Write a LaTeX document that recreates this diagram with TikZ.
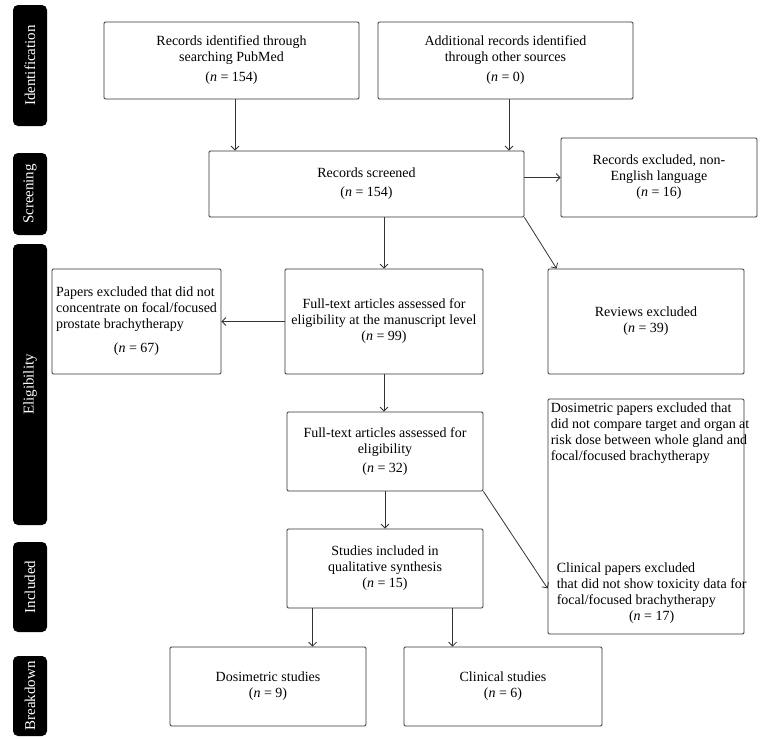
\documentclass[tikz,border=0pt]{standalone}
\usepackage{fontspec}
\setmainfont{Liberation Serif}
\usetikzlibrary{arrows.meta,calc}
\definecolor{linec}{HTML}{333333}
\begin{document}
\begin{tikzpicture}[x=1pt,y=-1pt,
  box/.style={draw=linec, line width=0.8pt, rounded corners=1.2pt, align=center,
    inner sep=0pt, font=\fontsize{14}{16}\selectfont},
  txt/.style={inner sep=0pt, align=left, font=\fontsize{14}{16}\selectfont},
  bar/.style={fill=black, rounded corners=5pt, text=white, rotate=90, inner sep=0pt,
    minimum height=34, font=\fontsize{15}{17}\selectfont},
  conn/.style={draw=linec, line width=0.8pt, -{Straight Barb[length=4pt,width=8pt]}},
]
\fill[white] (0,0) rectangle (766,739);
\useasboundingbox (0,0) rectangle (766,739);

% phase bars
\node[bar, minimum width=121] (bid) at (30,65.5) {Identification};
\node[bar, minimum width=82] (bscr) at (30,194) {Screening};
\node[bar, minimum width=281] (belig) at (30,384.5) {Eligibility};
\node[bar, minimum width=90] (bincl) at (30,587) {Included};
\node[bar, minimum width=80] (bbrk) at (30,696) {Breakdown};

% boxes
\node[box, minimum width=255, minimum height=77] (b1) at (231.5,60.5)
  {Records identified through\\ searching PubMed\\[4pt] (\textit{n} = 154)};
\node[box, minimum width=255, minimum height=77] (b2) at (505.5,60.5)
  {Additional records identified\\ through other sources\\[4pt] (\textit{n} = 0)};
\node[box, minimum width=315, minimum height=66] (scr) at (366.5,184)
  {Records screened\\[3pt] (\textit{n} = 154)};
\node[box, minimum width=196, minimum height=79] (ne) at (659,177.5)
  {Records excluded, non-\\ English language\\ (\textit{n} = 16)};
\node[box, minimum width=169, minimum height=105] (pap) at (136.5,321.5)
  {\begin{tabular}{@{}l@{}}Papers excluded that did not\\ concentrate on focal/focused\\ prostate brachytherapy\\[8pt]
   \multicolumn{1}{@{}c@{}}{(\textit{n} = 67)}\end{tabular}};
\node[box, minimum width=198, minimum height=105] (ft99) at (384,321.5)
  {Full-text articles assessed for\\ eligibility at the manuscript level\\ (\textit{n} = 99)};
\node[box, minimum width=196, minimum height=105] (rev) at (646,321.5)
  {Reviews excluded\\ (\textit{n} = 39)};
\node[box, minimum width=196, minimum height=79] (ft32) at (385,451.5)
  {Full-text articles assessed for\\ eligibility\\[3pt] (\textit{n} = 32)};
\node[box, minimum width=196, minimum height=235] (dex) at (646,516.5) {};
\node[txt, anchor=north west] (dextop) at ($(dex.north west)+(3,4)$)
  {Dosimetric papers excluded that\\ did not compare target and organ at\\ risk dose between whole gland and\\ focal/focused brachytherapy};
\node[txt, anchor=south west] (dexbot) at ($(dex.south west)+(9,-9)$)
  {\begin{tabular}{@{}l@{}}Clinical papers excluded\\ that did not show toxicity data for\\ focal/focused brachytherapy\\
   \multicolumn{1}{@{}c@{}}{(\textit{n} = 17)}\end{tabular}};
\node[box, minimum width=196, minimum height=79] (st) at (385,568.5)
  {Studies included in\\ qualitative synthesis\\ (\textit{n} = 15)};
\node[box, minimum width=196, minimum height=79] (ds) at (268,686.5)
  {Dosimetric studies\\ (\textit{n} = 9)};
\node[box, minimum width=198, minimum height=79] (cs) at (503,686.5)
  {Clinical studies\\ (\textit{n} = 6)};

% connector end points
\coordinate (a1) at ($(b1.south)+(3.5,0)$);
\coordinate (a2) at ($(b2.south)+(3.5,0)$);
\coordinate (revin) at ($(rev.north west)+(9,0)$);
\coordinate (dexin) at ($(dex.south west)+(0,-46)$);
\coordinate (s1) at ($(st.south west)+(26,0)$);
\coordinate (s2) at ($(st.south west)+(166,0)$);

% connectors
\draw[conn] (a1) -- (a1 |- scr.north);
\draw[conn] (a2) -- (a2 |- scr.north);
\draw[conn] (scr.east |- ne.west) -- (ne.west);
\draw[conn] (scr.south -| ft99.north) -- (ft99.north);
\draw[conn] (scr.south east) -- (revin);
\draw[conn] (ft99.west) -- (ft99.west -| pap.east);
\draw[conn] (ft99.south) -- (ft99.south |- ft32.north);
\draw[conn] (ft32.south) -- (ft32.south |- st.north);
\draw[conn] (ft32.south east) -- (dexin);
\draw[conn] (s1) -- (s1 |- ds.north);
\draw[conn] (s2) -- (s2 |- cs.north);
\end{tikzpicture}
\end{document}
